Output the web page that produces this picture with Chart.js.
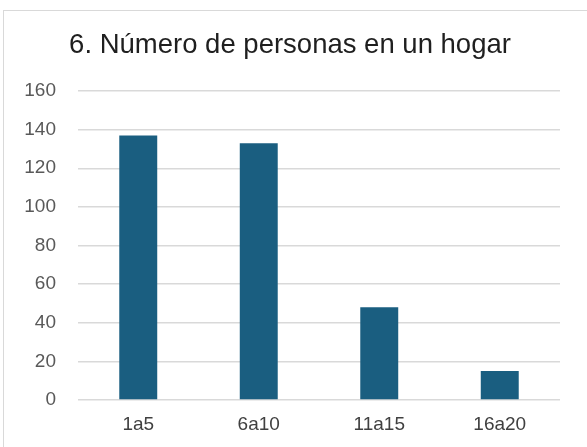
<!DOCTYPE html>
<html>
<head>
<meta charset="utf-8">
<script src="https://cdn.jsdelivr.net/npm/chart.js@4"></script>
<style>
  body { margin: 0; background: #fff; }
  #wrap { position: relative; width: 587px; height: 447px; overflow: hidden; }
  #frame { position: absolute; left: 3px; top: 10px; width: 620px; height: 480px; border: 1px solid #d9d9d9; }
  canvas { position: absolute; left: 0; top: 0; }
</style>
</head>
<body>
<div id="wrap">
  <div id="frame"></div>
  <canvas id="myChart" width="587" height="447"></canvas>
</div>
<script>
// datos
var categorias = ['1a5', '6a10', '11a15', '16a20'];
var personas = [137, 133, 48, 15];
var ticksY = [0, 20, 40, 60, 80, 100, 120, 140, 160];

var ctx = document.getElementById('myChart');
var myChart = new Chart(ctx, {
  type: 'bar',
  data: {
    labels: categorias,
    datasets: [{
      data: personas,
      backgroundColor: '#1a5e80',
      categoryPercentage: 1,
      barPercentage: 0.315
    }]
  },
  options: {
    responsive: false,
    animation: false,
    layout: { padding: { left: 20, right: 27, top: 0, bottom: 0 } },
    plugins: {
      legend: { display: false },
      tooltip: { enabled: false },
      title: {
        display: true,
        text: '6. Número de personas en un hogar',
        color: '#1f1f1f',
        font: { family: 'Arial, "Liberation Sans"', size: 27.5, weight: 'normal' },
        padding: { top: 29, bottom: 29 }
      }
    },
    scales: {
      x: {
        grid: { display: false, drawTicks: false },
        border: { display: false },
        ticks: {
          color: '#404040',
          padding: 13,
          font: { family: 'Arial, "Liberation Sans"', size: 19 }
        },
        afterFit: function (scale) { scale.height = 47; }
      },
      y: {
        min: 0,
        max: 160,
        afterBuildTicks: function (scale) {
          scale.ticks = ticksY.map(function (v) { return { value: v }; });
        },
        grid: { color: '#d9d9d9', lineWidth: 1.5, drawTicks: false },
        border: { display: false },
        ticks: {
          color: '#595959',
          padding: 22,
          font: { family: 'Arial, "Liberation Sans"', size: 19 }
        },
        afterFit: function (scale) { scale.width = 58; }
      }
    }
  }
});
</script>
</body>
</html>
